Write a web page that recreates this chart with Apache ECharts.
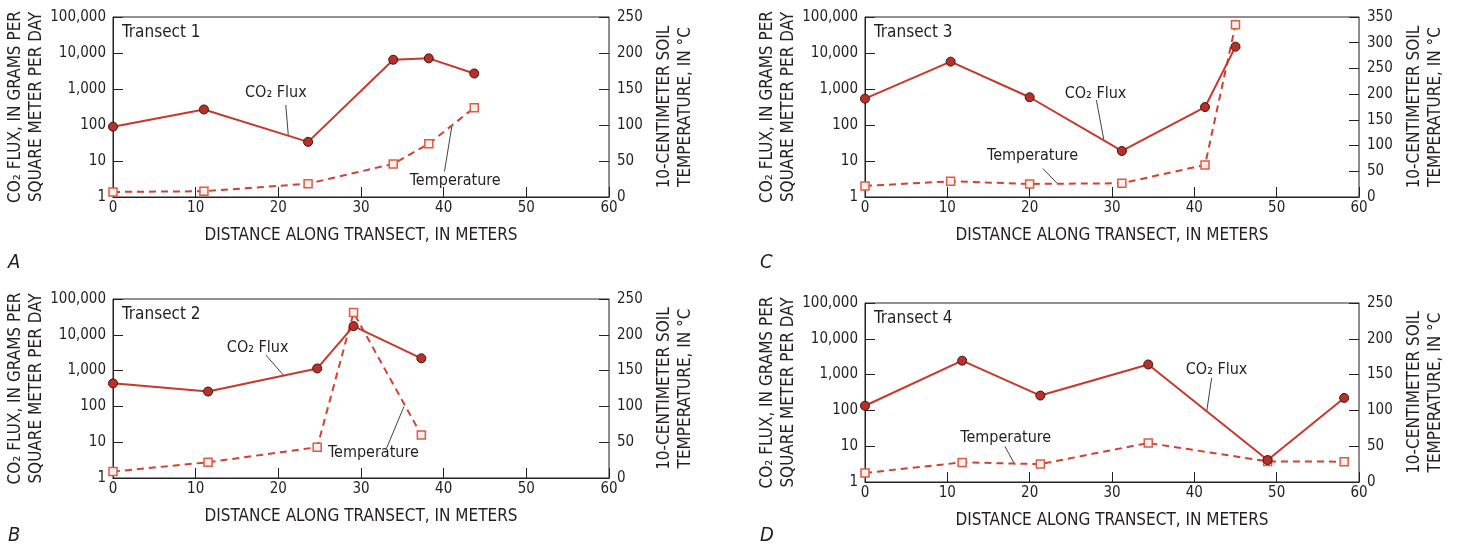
<!DOCTYPE html>
<html>
<head>
<meta charset="utf-8">
<title>CO2 flux and soil temperature along transects</title>
<script src="https://cdn.jsdelivr.net/npm/echarts@6/dist/echarts.min.js"></script>
<style>
  html, body { margin: 0; padding: 0; background: #fff; }
  #main { width: 1457px; height: 548px; }
</style>
</head>
<body>
<div id="main"></div>
<script>
// distance along transect (m), CO2 flux (g/m2/day), 10-cm soil temperature (°C)
var dist1 = [0, 11.0, 23.6, 33.9, 38.2, 43.7];
var flux1 = [90, 270, 34, 6500, 7100, 2700];
var temp1 = [7, 8, 18.5, 46, 74, 124];

var dist2 = [0, 11.5, 24.7, 29.1, 37.3];
var flux2 = [440, 260, 1150, 17500, 2200];
var temp2 = [9, 22, 43, 231, 60];

var dist3 = [0, 10.4, 20.0, 31.2, 41.3, 45.0];
var flux3 = [540, 5750, 590, 19, 315, 15000];
var temp3 = [21.5, 30.6, 25.4, 26.7, 62.4, 335];

var dist4 = [0, 11.8, 21.3, 34.4, 48.9, 58.2];
var flux4 = [135, 2450, 260, 1920, 4.1, 223];
var temp4 = [12.6, 27.4, 25, 54.5, 28.8, 28.4];

var transectNames = ['Transect 1', 'Transect 2', 'Transect 3', 'Transect 4'];
var panelLetters = ['A', 'B', 'C', 'D'];
var tempMax = [250, 250, 350, 250];

// label annotations: [labelX, labelY], leader [[x1, y1], [x2, y2]] in data units
var fluxNoteLabel = [[19.7, 780], [17.5, 4270], [28.0, 745], [42.7, 1380]];
var fluxNoteLeader = [
  [[20.9, 360], [21.2, 53]],
  [[18.5, 2700], [20.6, 755]],
  [[28.1, 492], [29.0, 40]],
  [[42.1, 800], [41.5, 92]]
];
var tempNoteLabel = [[41.4, 22.6], [31.5, 35], [20.35, 79.4], [17.1, 61.9]];
var tempNoteLeader = [
  [[40.1, 35.5], [41.0, 99]],
  [[33.1, 41.8], [35.2, 100]],
  [[21.6, 55.4], [23.3, 27.3]],
  [[17.0, 49.7], [18.2, 24.2]]
];

var dists = [dist1, dist2, dist3, dist4];
var fluxes = [flux1, flux2, flux3, flux4];
var temps = [temp1, temp2, temp3, temp4];

var grids = [
  { left: 113, top: 17, width: 496, height: 180 },
  { left: 113, top: 299, width: 496, height: 179 },
  { left: 865, top: 17, width: 494, height: 180 },
  { left: 865, top: 303, width: 494, height: 179 }
];
var letterPos = [[8, 253], [8, 526], [760, 253], [760, 526]];

var FONT = "'Liberation Sans Narrow', 'DejaVu Sans Condensed', sans-serif";
var INK = '#231f20';

function zip(xs, ys) {
  return xs.map(function (x, i) { return [x, ys[i]]; });
}

var xAxes = [], yAxes = [], series = [], graphics = [];

grids.forEach(function (g, i) {
  g.show = true;
  g.borderColor = '#222';
  g.borderWidth = 1;

  xAxes.push({
    gridIndex: i, type: 'value', min: 0, max: 60, interval: 10,
    name: 'DISTANCE ALONG TRANSECT, IN METERS',
    nameLocation: 'middle', nameGap: 30,
    nameTextStyle: { fontSize: 17, color: INK },
    axisLine: { lineStyle: { color: '#222', width: 1 } },
    axisTick: { inside: true, length: 10, lineStyle: { color: '#222' } },
    axisLabel: { fontSize: 15, color: INK, margin: 4 },
    splitLine: { show: false }
  });

  yAxes.push({
    gridIndex: i, type: 'log', logBase: 10, min: 1, max: 100000,
    position: 'left',
    name: 'CO\u2082 FLUX, IN GRAMS PER\nSQUARE METER PER DAY',
    nameLocation: 'middle', nameRotate: 90, nameGap: 66,
    nameMoveOverlap: false,
    nameTextStyle: { fontSize: 17, lineHeight: 21, color: INK },
    axisLine: { show: true, lineStyle: { color: '#222', width: 1 } },
    axisTick: { inside: true, length: 10, lineStyle: { color: '#222' } },
    axisLabel: {
      fontSize: 15, color: INK, margin: 7,
      formatter: function (v) { return Math.round(v).toLocaleString('en-US'); }
    },
    minorTick: { show: false },
    splitLine: { show: false }
  });

  yAxes.push({
    gridIndex: i, type: 'value', min: 0, max: tempMax[i], interval: 50,
    position: 'right',
    name: '10-CENTIMETER SOIL\nTEMPERATURE, IN \u00B0C',
    nameLocation: 'middle', nameRotate: 90, nameGap: 45,
    nameTextStyle: { fontSize: 17, lineHeight: 21, color: INK },
    axisLine: { show: true, lineStyle: { color: '#8a8a8a', width: 1 } },
    axisTick: { inside: true, length: 10, lineStyle: { color: '#222' } },
    axisLabel: { fontSize: 15, color: INK, margin: 8 },
    splitLine: { show: false }
  });

  var yl = 2 * i, yr = 2 * i + 1;

  // leader lines
  series.push({
    type: 'line', xAxisIndex: i, yAxisIndex: yl, data: fluxNoteLeader[i],
    symbol: 'none', silent: true, z: 1,
    lineStyle: { color: '#111', width: 0.8 }
  });
  series.push({
    type: 'line', xAxisIndex: i, yAxisIndex: yr, data: tempNoteLeader[i],
    symbol: 'none', silent: true, z: 1,
    lineStyle: { color: '#111', width: 0.8 }
  });

  // temperature
  series.push({
    name: 'Temperature', type: 'line', xAxisIndex: i, yAxisIndex: yr,
    data: zip(dists[i], temps[i]), z: 3,
    symbol: 'rect', symbolSize: 8,
    itemStyle: { color: '#fff1ec', borderColor: '#e05a44', borderWidth: 1.5 },
    lineStyle: { color: '#d2402f', width: 2, type: [7, 5] }
  });

  // CO2 flux
  series.push({
    name: 'CO2 Flux', type: 'line', xAxisIndex: i, yAxisIndex: yl,
    data: zip(dists[i], fluxes[i]), z: 4,
    symbol: 'circle', symbolSize: 9,
    itemStyle: { color: '#b8302a', borderColor: '#3d1410', borderWidth: 1 },
    lineStyle: { color: '#c9372c', width: 2 }
  });

  // text labels for the curves
  var noteLabel = { show: true, position: 'inside', fontSize: 16, color: INK,
                    textBorderWidth: 0, opacity: 1 };
  series.push({
    type: 'scatter', xAxisIndex: i, yAxisIndex: yl, data: [fluxNoteLabel[i]],
    symbolSize: 1, itemStyle: { color: 'rgba(0,0,0,0)' }, silent: true, z: 5,
    label: Object.assign({ formatter: 'CO\u2082 Flux' }, noteLabel)
  });
  series.push({
    type: 'scatter', xAxisIndex: i, yAxisIndex: yr, data: [tempNoteLabel[i]],
    symbolSize: 1, itemStyle: { color: 'rgba(0,0,0,0)' }, silent: true, z: 5,
    label: Object.assign({ formatter: 'Temperature' }, noteLabel)
  });

  graphics.push({
    type: 'text', left: g.left + 9, top: g.top + 7, z: 10,
    style: { text: transectNames[i], font: '17px ' + FONT, fill: INK }
  });
  graphics.push({
    type: 'text', left: letterPos[i][0], top: letterPos[i][1], z: 10,
    style: { text: panelLetters[i], font: 'italic 20px ' + FONT, fill: INK }
  });
});

var chart = echarts.init(document.getElementById('main'));
chart.setOption({
  animation: false,
  textStyle: { fontFamily: FONT, color: INK },
  grid: grids,
  xAxis: xAxes,
  yAxis: yAxes,
  series: series,
  graphic: graphics
});
</script>
</body>
</html>
